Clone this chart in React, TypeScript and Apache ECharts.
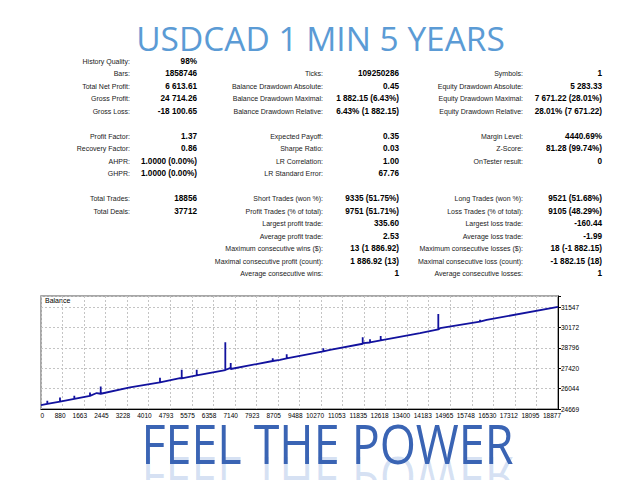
import React, { useEffect, useRef } from 'react';
import * as echarts from 'echarts';

const titleText = 'USDCAD 1 MIN 5 YEARS';
const sloganText = 'FEEL THE POWER';
const seriesName = 'Balance';

// x-axis tick labels (trade number) and y-axis tick labels (balance)
const xTickLabels = ['0', '880', '1663', '2445', '3228', '4010', '4793', '5575', '6358', '7140', '7923', '8705', '9488', '10270', '11053', '11835', '12618', '13400', '14183', '14965', '15748', '16530', '17312', '18095', '18877'];
const yTickLabels = ['24669', '26044', '27420', '28796', '30172', '31547'];
const X_MIN = 97;
const X_STEP = 782.6;
const Y_MIN = 24669;
const Y_STEP = 1375.6;
const Y_MAX = 32309;

// balance curve: trade number / balance (spikes as base-top-base)
const tradeNo = [97, 326, 326, 326, 787, 787, 787, 1307, 1307, 1307, 1877, 1877, 1877, 2121, 2266, 2266, 2266, 3330, 4420, 4420, 4420, 5147, 5209, 5209, 5209, 5754, 5754, 5754, 6793, 6793, 6793, 6963, 6989, 6989, 6989, 8515, 8515, 8515, 8780, 9023, 9023, 9023, 10353, 10353, 10353, 10596, 11784, 11784, 11784, 11806, 12050, 12050, 12050, 12438, 12438, 12438, 13866, 14531, 14531, 14531, 14593, 16046, 16046, 16046, 16289, 18879];
const balance = [24930, 25011, 25229, 25011, 25175, 25451, 25175, 25359, 25566, 25359, 25561, 25788, 25561, 25748, 25700, 26193, 25700, 26125, 26462, 26780, 26462, 26759, 26742, 27319, 26742, 26935, 27319, 26935, 27303, 29187, 27303, 27434, 27373, 27771, 27373, 27914, 28108, 27914, 27993, 28093, 28378, 28093, 28565, 28782, 28565, 28668, 29080, 29524, 29080, 29119, 29166, 29389, 29166, 29304, 29612, 29304, 29794, 30045, 31095, 30045, 30131, 30582, 30700, 30582, 30690, 31580];

// statistics table
const col1Labels = ['History Quality:', 'Bars:', 'Total Net Profit:', 'Gross Profit:', 'Gross Loss:', '', 'Profit Factor:', 'Recovery Factor:', 'AHPR:', 'GHPR:', '', 'Total Trades:', 'Total Deals:'];
const col1Values = ['98%', '1858746', '6 613.61', '24 714.26', '-18 100.65', '', '1.37', '0.86', '1.0000 (0.00%)', '1.0000 (0.00%)', '', '18856', '37712'];
const col2Labels = ['', 'Ticks:', 'Balance Drawdown Absolute:', 'Balance Drawdown Maximal:', 'Balance Drawdown Relative:', '', 'Expected Payoff:', 'Sharpe Ratio:', 'LR Correlation:', 'LR Standard Error:', '', 'Short Trades (won %):', 'Profit Trades (% of total):', 'Largest profit trade:', 'Average profit trade:', 'Maximum consecutive wins ($):', 'Maximal consecutive profit (count):', 'Average consecutive wins:'];
const col2Values = ['', '109250286', '0.45', '1 882.15 (6.43%)', '6.43% (1 882.15)', '', '0.35', '0.03', '1.00', '67.76', '', '9335 (51.75%)', '9751 (51.71%)', '335.60', '2.53', '13 (1 886.92)', '1 886.92 (13)', '1'];
const col3Labels = ['', 'Symbols:', 'Equity Drawdown Absolute:', 'Equity Drawdown Maximal:', 'Equity Drawdown Relative:', '', 'Margin Level:', 'Z-Score:', 'OnTester result:', '', '', 'Long Trades (won %):', 'Loss Trades (% of total):', 'Largest loss trade:', 'Average loss trade:', 'Maximum consecutive losses ($):', 'Maximal consecutive loss (count):', 'Average consecutive losses:'];
const col3Values = ['', '1', '5 283.33', '7 671.22 (28.01%)', '28.01% (7 671.22)', '', '4440.69%', '81.28 (99.74%)', '0', '', '', '9521 (51.68%)', '9105 (48.29%)', '-160.44', '-1.99', '18 (-1 882.15)', '-1 882.15 (18)', '1'];

const FONT = '"Liberation Sans", Arial, sans-serif';

function txt(text: string, x: number, y: number, style: any, extra: any = {}) {
  return {
    type: 'text',
    x,
    y,
    silent: true,
    ...extra,
    style: {
      text,
      fontFamily: FONT,
      align: 'right',
      textAlign: 'right',
      verticalAlign: 'middle',
      textVerticalAlign: 'middle',
      ...style,
    },
  };
}

function buildGraphic() {
  const els: any[] = [];
  const rowY = (i: number) => 61 + 12.5 * i;
  const cols = [
    { labels: col1Labels, values: col1Values, lx: 130, vx: 197 },
    { labels: col2Labels, values: col2Values, lx: 323, vx: 399 },
    { labels: col3Labels, values: col3Values, lx: 523, vx: 602 },
  ];
  cols.forEach((c) => {
    c.labels.forEach((l, i) => {
      if (l) els.push(txt(l, c.lx, rowY(i), { fontSize: 7, fill: '#1a1a1a' }));
    });
    c.values.forEach((v, i) => {
      if (v) els.push(txt(v, c.vx, rowY(i), { fontSize: 8.2, fontWeight: 'bold', fill: '#000' }));
    });
  });
  // title
  els.push(txt(titleText, 0, 0, {
    fontSize: 32.5, fontFamily: '"Open Sans", sans-serif', fill: '#5b9bd5', align: 'center', textAlign: 'center',
  }, { x: 320.5, y: 38.5, scaleX: 1.03 }));
  // reflection (drawn first, faint)
  els.push(txt(sloganText, 0, 0, {
    fontSize: 54.6, fontFamily: '"Open Sans", sans-serif', align: 'center', textAlign: 'center',
    fill: 'rgba(110,150,215,0.28)',
  }, { x: 327.5, y: 443.5, scaleX: 0.853, scaleY: -1, originX: 0, originY: 17 }));
  // slogan
  els.push(txt(sloganText, 0, 0, {
    fontSize: 54.6, fontFamily: '"Open Sans", sans-serif', align: 'center', textAlign: 'center',
    fill: '#3a64b4',
  }, { x: 327.5, y: 443.5, scaleX: 0.853 }));
  // series caption
  els.push(txt(seriesName, 45, 300.5, { fontSize: 7, fill: '#000', align: 'left', textAlign: 'left' }));
  return els;
}

export default function App() {
  const ref = useRef<HTMLDivElement>(null);
  useEffect(() => {
    if (!ref.current) return;
    const chart = echarts.init(ref.current, undefined, { renderer: 'svg' });
    const data = tradeNo.map((t, i) => [t, balance[i]]);
    const xMax = X_MIN + X_STEP * (xTickLabels.length - 1);
    chart.setOption({
      animation: false,
      backgroundColor: '#ffffff',
      grid: {
        left: 41, right: 82, top: 296, bottom: 71,
        show: true, borderColor: '#8a8a8a', borderWidth: 1.5, backgroundColor: '#fff',
        containLabel: false,
      },
      xAxis: {
        type: 'value', min: X_MIN, max: xMax, interval: X_STEP,
        axisLine: { show: true, lineStyle: { color: '#000', width: 1 } },
        axisTick: { show: false },
        splitLine: { show: true, lineStyle: { color: '#c4c4c4', type: [2, 2], width: 1 } },
        axisLabel: {
          showMinLabel: true, showMaxLabel: true,
          fontSize: 6.5, fontFamily: FONT, color: '#000', align: 'right', margin: 3,
          padding: [0, -3, 0, 0],
          formatter: (v: number) => {
            const idx = Math.round((v - X_MIN) / X_STEP);
            return Math.abs(v - (X_MIN + idx * X_STEP)) < 1 ? (xTickLabels[idx] ?? '') : '';
          },
        },
      },
      yAxis: {
        type: 'value', position: 'right', min: Y_MIN, max: Y_MAX, interval: Y_STEP, scale: true,
        axisLine: { show: true, lineStyle: { color: '#000', width: 1 } },
        axisTick: { show: true, length: 3, lineStyle: { color: '#000' } },
        splitLine: { show: true, lineStyle: { color: '#c4c4c4', type: [2, 2], width: 1 } },
        axisLabel: {
          showMinLabel: true, showMaxLabel: true,
          fontSize: 6.5, fontFamily: FONT, color: '#000', align: 'left', margin: 3,
          formatter: (v: number) => {
            const idx = Math.round((v - Y_MIN) / Y_STEP);
            return Math.abs(v - (Y_MIN + idx * Y_STEP)) < 1 ? (yTickLabels[idx] ?? '') : '';
          },
        },
      },
      series: [{
        type: 'line', name: seriesName, data, symbol: 'none', showSymbol: false,
        lineStyle: { color: '#12129e', width: 1.8 }, clip: true,
      }],
      graphic: buildGraphic(),
    });
    return () => chart.dispose();
  }, []);
  return <div ref={ref} style={{ position: 'fixed', left: 0, top: 0, width: 640, height: 480, background: '#fff' }} />;
}
